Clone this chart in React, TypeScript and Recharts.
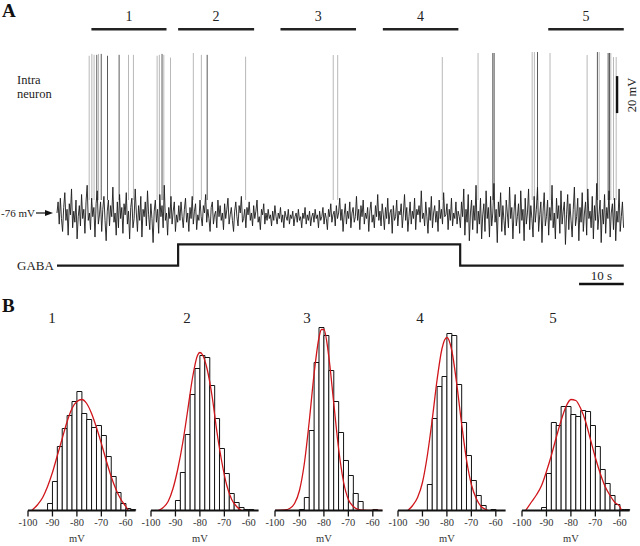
import React from 'react';
import { ComposedChart, Line, Bar, XAxis, YAxis, ReferenceLine } from 'recharts';

const SERIF = "'Liberation Serif', 'Times New Roman', serif";

// ---------- Panel A data ----------
const DT = 0.25; // s between trace samples
const tracePre = [
  -76, -70, -82, -68, -79, -86, -73, -65, -80, -74, -88, -71, -77, -63, -84, -75, -81, -69, -90, -78,
  -72, -83, -66, -79, -74, -87, -70, -61, -80, -76, -85, -68, -78, -73, -89, -71, -64, -82, -77, -70,
  -86, -74, -67, -80, -91, -75, -69, -83, -72, -78, -62, -81, -76, -88, -70, -84, -66, -79, -73, -87,
  -71, -77, -65, -82, -75, -90, -73, -68, -84, -79, -63, -76, -86, -72, -80, -67, -89, -74, -78, -70,
  -83, -64, -77, -85, -71, -79, -92, -75, -69, -81, -74, -87, -66, -78, -72, -84, -61, -80, -76, -88,
  -73, -79, -67, -82, -75, -70, -86, -77, -81,
];
const traceGaba = [
  -72, -80, -70, -78, -84, -74, -68, -81, -76, -86, -73, -79, -67, -82, -75, -71, -85, -77, -80, -69,
  -78, -83, -72, -76, -66, -81, -74, -79, -86, -73, -70, -82, -77, -75, -84, -69, -78, -72, -80, -76,
  -85, -71, -79, -74, -68, -82, -77, -73, -80, -86, -75, -70, -78, -83, -72, -76, -67, -81, -79, -74,
  -84, -73, -77, -70, -80, -76, -83, -72, -79, -75, -69, -81, -78, -85, -74, -77, -71, -82, -76, -80,
  -74, -79, -77, -83, -75, -80, -72, -78, -82, -76, -79, -73, -81, -77, -84, -75, -78, -80, -74, -82,
  -77, -79, -75, -83, -78, -76, -81, -74, -80, -78, -84, -76, -79, -73, -82, -77, -80, -75, -83, -78,
  -76, -81, -74, -79, -77, -84, -75, -80, -78, -73, -82, -76, -79, -85, -74, -78, -71, -81, -77, -75,
  -83, -72, -79, -76, -68, -80, -74, -86, -77, -71, -82, -75, -79, -70, -84, -76, -73, -81, -78, -67,
  -80, -74, -85, -72, -78, -69, -82, -76, -79, -73, -86, -75, -70, -81, -77, -84, -72, -78, -66, -80,
  -75, -83, -71, -77, -85, -73, -79, -68, -82, -76, -74, -87, -72, -80, -78, -69, -83, -75, -77, -71,
  -84, -76, -66, -80, -73, -86, -78, -70, -82, -75, -79, -68, -85, -74, -77, -72, -81, -64, -79, -76,
  -83, -70, -78, -87, -73, -80, -67, -84, -76, -72, -81, -75, -86, -69, -79, -74, -82, -65, -78, -77,
  -71, -85, -74, -80, -68, -83, -76, -79, -70, -82, -75, -78,
];
const tracePost = [
  -84, -70, -78, -63, -88, -74, -81, -66, -91, -76, -69, -85, -72, -80, -61, -87, -75, -82, -68, -90,
  -77, -71, -86, -64, -79, -73, -89, -67, -83, -76, -60, -81, -74, -92, -70, -78, -65, -86, -72, -80,
  -88, -69, -76, -84, -62, -79, -73, -90, -75, -66, -83, -78, -71, -87, -64, -80, -74, -91, -68, -82,
  -76, -63, -85, -72, -79, -89, -67, -81, -74, -62, -86, -77, -70, -92, -75, -65, -83, -78, -69, -88,
  -73, -80, -61, -84, -76, -90, -68, -79, -72, -87, -64, -82, -75, -70, -93, -77, -66, -85, -71, -80,
  -89, -74, -62, -83, -78, -68, -91, -73, -81, -65, -86, -76, -70, -88, -63, -79, -75, -84, -67, -90,
  -72, -80, -60, -85, -77, -69, -92, -74, -82, -66, -87, -73, -79, -64, -89, -76, -71, -85, -68, -91,
  -75, -81, -63, -86, -78, -70, -84,
];

const spikeTimes = [
  7.2, 7.8, 8.3, 8.9, 9.3, 9.9, 11.3, 13.9, 16.0, 17.1,
  22.4, 22.9, 23.5, 23.9, 25.4, 30.5, 32.3, 33.6, 42.2,
  61.8, 62.8, 86.2, 94.2, 97.5, 97.8, 106.3, 106.8, 107.5,
  110.3, 118.6, 120.9, 121.3, 123.3, 123.6, 123.9, 124.5, 125.1,
];
const spikePeaks = [
  9, 10, 9.5, 9.5, 10, 10, 9, 9.5, 9.5, 9.5,
  9, 9.5, 10, 9.5, 8, 10.5, 9.5, 9.5, 8.5,
  9.4, 9.4, 8.3, 10.5, 10.5, 10.5, 11, 11, 11,
  10.5, 9.4, 11, 11, 10.5, 10.5, 10.5, 8.3, 8.3,
];
const spikeDark = [
  0, 0, 0, 1, 0, 1, 1, 1, 0, 0,
  0, 0, 1, 0, 0, 0, 0, 1, 0,
  0, 0, 0, 0, 1, 1, 0, 0, 1,
  0, 0, 1, 0, 1, 1, 0, 0, 0,
];
const SPIKE_BASE = -69;

const gabaTimes = [0, 27.1, 90.2, 126.8];
const gabaLevels = [0, 1, 0, 0];

const periodLabels = ['1', '2', '3', '4', '5'];
const periodStart = [7.7, 27.1, 50.0, 72.9, 109.9];
const periodEnd = [24.5, 44.1, 66.9, 89.8, 126.8];

// ---------- Panel B data ----------
const binCenters = [-99, -97, -95, -93, -91, -89, -87, -85, -83, -81, -79, -77, -75, -73, -71, -69, -67, -65, -63, -61, -59, -57];
const hist1 = [0, 0, 0, 0, 7, 29, 64, 82, 95, 109, 119, 97, 91, 83, 85, 75, 54, 34, 18, 7, 2, 1];
const hist2 = [0, 0, 0, 0, 0, 10, 38, 76, 116, 142, 155, 153, 125, 92, 62, 37, 17, 8, 3, 1, 1, 0];
const hist3 = [0, 0, 0, 0, 0, 1, 13, 80, 148, 183, 175, 140, 109, 78, 50, 35, 17, 9, 0, 0, 1, 0];
const hist4 = [0, 0, 0, 0, 0, 0, 26, 92, 124, 134, 177, 175, 126, 88, 55, 30, 15, 5, 0, 1, 0, 0];
const hist5 = [0, 0, 0, 0, 3, 37, 88, 85, 104, 104, 96, 94, 100, 99, 85, 64, 41, 27, 15, 6, 1, 1];

const fit1X = [-98.5, -96, -94, -92, -90, -88, -86, -84, -82, -80, -78, -76, -74, -72, -70, -68, -66, -64, -62, -60, -59];
const fit1Y = [0, 6, 13, 24, 38, 55, 72, 89, 102, 109, 111, 107, 97, 83, 67, 50, 34, 21, 11, 4, 0];
const fit2X = [-97, -95, -93, -91, -89, -87, -85, -83, -81, -80, -79, -77, -75, -73, -71, -69, -67, -65, -63];
const fit2Y = [0, 3, 9, 22, 42, 68, 100, 133, 155, 158, 156, 141, 114, 78, 48, 25, 11, 4, 0];
const fit3X = [-100, -96, -94, -92, -90, -88, -86, -84, -82, -81, -80, -78, -76, -74, -72, -70, -68, -66, -64, -60, -56];
const fit3Y = [0, 0.5, 2, 7, 20, 47, 89, 137, 173, 181, 181, 154, 108, 62, 29, 11, 4, 1, 0.3, 0, 0];
const fit4X = [-96, -94, -92, -90, -88, -86, -84, -82, -80, -78, -76, -74, -72, -70, -68, -66, -64, -63];
const fit4Y = [0, 5, 13, 28, 55, 91, 131, 162, 173, 160, 127, 87, 51, 26, 12, 4, 1, 0];
const fit5X = [-98.5, -96, -94, -92, -90, -88, -86, -84, -82, -80, -78, -76, -74, -72, -70, -68, -66, -64, -62, -60, -59.3];
const fit5Y = [0, 9, 16, 25, 39, 55, 73, 90, 104, 111, 110, 102, 89, 71, 53, 37, 24, 15, 8, 4, 0];

const histTicks = [-100, -90, -80, -70, -60];
const histLabels = ['1', '2', '3', '4', '5'];

// ---------- layout ----------
const A_T0 = -12.75; // time at left page edge
const A_T1 = 130.43; // time at right page edge
const MV_DOMAIN: [number, number] = [-123.03, 39.14];
const G_DOMAIN: [number, number] = [-1.603, 12.416];
const PERIOD_MV = 23.3;
const SCALE_T = 125.3;
const SCALE_MV: [number, number] = [-22, -2];
const TIME_BAR_MV = -114.4;
const TIME_BAR: [number, number] = [116.8, 126.8];

const H_DOMAIN: [number, number] = [-100, -56];
const HIST_PLOT_LEFT = [27.7, 151, 275.3, 398.3, 522.3];
const HIST_PLOT_W = 107.6;
const HIST_ML = 14;
const HIST_MR = 10;

function PanelA() {
  const trace = [...tracePre, ...traceGaba, ...tracePost].map((v, i) => ({ t: i * DT, v }));
  const spikeSeries = (dark: number) =>
    spikeTimes.flatMap((t, i) =>
      spikeDark[i] === dark
        ? [
            { t, v: SPIKE_BASE },
            { t, v: spikePeaks[i] },
            { t, v: null },
          ]
        : []
    );
  const gaba = gabaTimes.map((t, i) => ({ t, g: gabaLevels[i] }));
  return (
    <ComposedChart width={640} height={300} margin={{ top: 0, right: 0, bottom: 0, left: 0 }}>
      <XAxis type="number" dataKey="t" domain={[A_T0, A_T1]} hide allowDataOverflow />
      <YAxis yAxisId="mv" type="number" domain={MV_DOMAIN} hide allowDataOverflow />
      <YAxis yAxisId="g" type="number" domain={G_DOMAIN} hide allowDataOverflow />
      <Line yAxisId="mv" data={spikeSeries(0)} dataKey="v" stroke="#b8b8b8" strokeWidth={1} dot={false} activeDot={false} isAnimationActive={false} />
      <Line yAxisId="mv" data={spikeSeries(1)} dataKey="v" stroke="#5a5a5a" strokeWidth={1} dot={false} activeDot={false} isAnimationActive={false} />
      <Line yAxisId="mv" data={trace} dataKey="v" type="linear" stroke="#1c1c1c" strokeWidth={0.9} dot={false} activeDot={false} isAnimationActive={false} />
      <Line yAxisId="g" data={gaba} dataKey="g" type="stepAfter" stroke="#1a1a1a" strokeWidth={2.2} dot={false} activeDot={false} isAnimationActive={false} />
      {periodStart.map((s, i) => (
        <ReferenceLine
          key={'p' + i}
          yAxisId="mv"
          segment={[{ x: s, y: PERIOD_MV }, { x: periodEnd[i], y: PERIOD_MV }]}
          stroke="#222"
          strokeWidth={2.6}
          label={{ value: periodLabels[i], position: 'top', offset: 8, fill: '#222', fontSize: 14, fontFamily: SERIF }}
        />
      ))}
      <ReferenceLine
        yAxisId="mv"
        segment={[{ x: SCALE_T, y: SCALE_MV[0] }, { x: SCALE_T, y: SCALE_MV[1] }]}
        stroke="#111"
        strokeWidth={2.4}
      />
      <ReferenceLine
        yAxisId="mv"
        segment={[{ x: TIME_BAR[0], y: TIME_BAR_MV }, { x: TIME_BAR[1], y: TIME_BAR_MV }]}
        stroke="#111"
        strokeWidth={2.6}
        label={{ value: '10 s', position: 'top', offset: 4, fill: '#222', fontSize: 13, fontFamily: SERIF }}
      />
    </ComposedChart>
  );
}

function MvLabel(props: any) {
  const vb = props.viewBox || {};
  const x = vb.x + (vb.width * 20) / 44;
  const y = vb.y + 32;
  return (
    <text x={x} y={y} textAnchor="middle" fontSize={10.5} fill="#333" fontFamily={SERIF}>
      mV
    </text>
  );
}

function Hist({ counts, fx, fy }: { counts: number[]; fx: number[]; fy: number[] }) {
  const bars = binCenters.map((x, i) => ({ x, c: counts[i] }));
  const fit = fx.map((x, i) => ({ x, f: fy[i] }));
  return (
    <ComposedChart
      width={HIST_ML + HIST_PLOT_W + HIST_MR}
      height={226}
      data={bars}
      barCategoryGap={0}
      barGap={0}
      margin={{ top: 5.5, right: HIST_MR, bottom: 2.5, left: HIST_ML }}
    >
      <XAxis xAxisId="cat" type="category" dataKey="x" hide />
      <XAxis
        type="number"
        dataKey="x"
        domain={H_DOMAIN}
        ticks={histTicks}
        interval={0}
        allowDataOverflow
        height={33}
        tickSize={6}
        tickMargin={2}
        tick={{ fontSize: 10.5, fill: '#333', fontFamily: SERIF }}
        tickLine={{ stroke: '#111', strokeWidth: 1.3 }}
        axisLine={{ stroke: '#111', strokeWidth: 1.8 }}
        label={(p: any) => <MvLabel {...p} />}
      />
      <YAxis type="number" domain={[0, 185]} hide allowDataOverflow />
      <Bar xAxisId="cat" dataKey="c" fill="#fff" stroke="#111" strokeWidth={1} isAnimationActive={false} />
      <Line data={fit} dataKey="f" type="monotone" stroke="#d0161b" strokeWidth={1.3} dot={false} activeDot={false} isAnimationActive={false} />
    </ComposedChart>
  );
}

export default function App() {
  const hists = [
    { counts: hist1, fx: fit1X, fy: fit1Y },
    { counts: hist2, fx: fit2X, fy: fit2Y },
    { counts: hist3, fx: fit3X, fy: fit3Y },
    { counts: hist4, fx: fit4X, fy: fit4Y },
    { counts: hist5, fx: fit5X, fy: fit5Y },
  ];
  const histLabelX = [52, 187, 307, 420, 553];
  return (
    <div style={{ position: 'absolute', left: 0, top: 0, width: 640, height: 546, overflow: 'hidden', background: '#fff' }}>
      <div style={{ position: 'absolute', left: 0, top: 0 }}>
        <PanelA />
      </div>
      {hists.map((h, i) => (
        <div key={i} style={{ position: 'absolute', left: HIST_PLOT_LEFT[i] - HIST_ML, top: 320 }}>
          <Hist counts={h.counts} fx={h.fx} fy={h.fy} />
        </div>
      ))}
      <svg
        width={640}
        height={546}
        style={{ position: 'absolute', left: 0, top: 0, pointerEvents: 'none' }}
        fontFamily={SERIF}
      >
        <text x={2} y={17} fontSize={19} fontWeight="bold" fill="#111">A</text>
        <text x={2} y={312} fontSize={19} fontWeight="bold" fill="#111">B</text>
        <text x={17} y={84} fontSize={12.5} fill="#222">Intra</text>
        <text x={17} y={98} fontSize={12.5} fill="#222">neuron</text>
        <text x={1} y={217} fontSize={11} fill="#222">-76 mV</text>
        <line x1={36} y1={213} x2={47} y2={213} stroke="#111" strokeWidth={1.2} />
        <polygon points="45,210 53,213 45,216" fill="#111" />
        <text x={17} y={270} fontSize={13} fill="#222">GABA</text>
        <text x={636} y={95} fontSize={12.5} fill="#222" textAnchor="middle" transform="rotate(-90 636 95)">20 mV</text>
        {histLabels.map((l, i) => (
          <text key={l} x={histLabelX[i]} y={323} fontSize={15} fill="#222" textAnchor="middle">{l}</text>
        ))}
      </svg>
    </div>
  );
}
